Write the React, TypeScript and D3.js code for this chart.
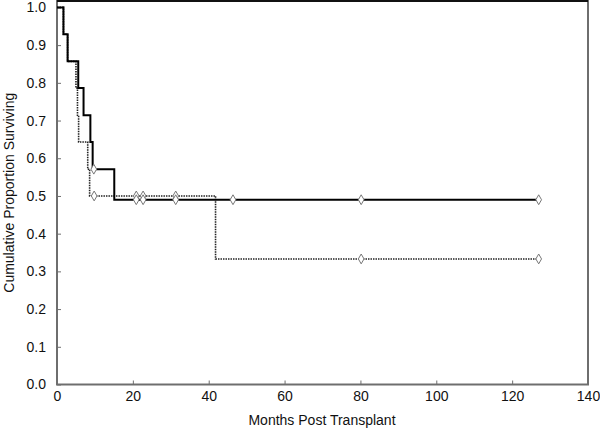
import React, { useRef, useEffect } from "react";
import * as d3 from "d3";

// survival steps: [month, proportion]
const solidSteps: [number, number][] = [
  [0, 1.0], [1.7, 0.929], [2.8, 0.857], [5.6, 0.786], [7.0, 0.714],
  [8.8, 0.643], [9.4, 0.571], [15.1, 0.49], [127, 0.49],
];
const solidCensored: [number, number][] = [
  [9.7, 0.571], [20.9, 0.49], [22.7, 0.49], [31.3, 0.49], [46.4, 0.49], [80.2, 0.49], [127, 0.49],
];

const dottedSteps: [number, number][] = [
  [0, 1.0], [1.7, 0.929], [2.8, 0.857], [5.0, 0.786], [5.4, 0.714], [5.7, 0.643],
  [8.1, 0.571], [8.6, 0.5], [41.8, 0.333], [127, 0.333],
];
const dottedCensored: [number, number][] = [
  [9.8, 0.5], [20.9, 0.5], [22.7, 0.5], [31.3, 0.5], [80.2, 0.333], [127, 0.333],
];

const xTicks = [0, 20, 40, 60, 80, 100, 120, 140];
const yTicks = [0, 0.1, 0.2, 0.3, 0.4, 0.5, 0.6, 0.7, 0.8, 0.9, 1.0];

const W = 600, H = 428;
const left = 57, right = 588, top = 1, bottom = 384.5;

export default function App() {
  const svgRef = useRef<SVGSVGElement>(null);

  useEffect(() => {
    const svg = d3.select(svgRef.current);
    svg.selectAll("*").remove();

    const x = d3.scaleLinear().domain([0, 140]).range([left, right]);
    const y = d3.scaleLinear().domain([0, 1.017]).range([bottom, top]);

    // frame
    svg.append("rect")
      .attr("x", left).attr("y", top)
      .attr("width", right - left).attr("height", bottom - top)
      .attr("fill", "none").attr("stroke", "#6e6e6e").attr("stroke-width", 2);
    svg.append("line")
      .attr("x1", left).attr("x2", right).attr("y1", top).attr("y2", top)
      .attr("stroke", "#111").attr("stroke-width", 2);

    // axes
    const xAxis = d3.axisBottom(x).tickValues(xTicks).tickSize(-4).tickPadding(7).tickFormat(d3.format("d"));
    const gx = svg.append("g").attr("transform", `translate(0,${bottom})`).call(xAxis);
    const yAxis = d3.axisLeft(y).tickValues(yTicks).tickSize(-4).tickPadding(11).tickFormat(d3.format(".1f"));
    const gy = svg.append("g").attr("transform", `translate(${left},0)`).call(yAxis);
    [gx, gy].forEach((g) => {
      g.select(".domain").remove();
      g.selectAll(".tick line").attr("stroke", "#6e6e6e").attr("stroke-width", 1);
      g.selectAll(".tick text")
        .attr("fill", "#111")
        .style("font-family", "Liberation Sans, Arial, sans-serif")
        .style("font-size", "14px");
    });

    // step lines
    const stepLine = d3.line<[number, number]>()
      .x((d) => x(d[0]))
      .y((d) => y(d[1]))
      .curve(d3.curveStepAfter);

    svg.append("path")
      .datum(dottedSteps)
      .attr("d", stepLine)
      .attr("fill", "none")
      .attr("stroke", "#222")
      .attr("stroke-width", 1.6)
      .attr("stroke-dasharray", "1.5,1");

    svg.append("path")
      .datum(solidSteps)
      .attr("d", stepLine)
      .attr("fill", "none")
      .attr("stroke", "#000")
      .attr("stroke-width", 2);

    // censor marks
    const diamond = d3.symbol().type(d3.symbolDiamond).size(28);
    svg.selectAll(".cens")
      .data([...dottedCensored, ...solidCensored])
      .join("path")
      .attr("class", "cens")
      .attr("d", diamond)
      .attr("transform", (d) => `translate(${x(d[0])},${y(d[1])})`)
      .attr("fill", "#fff")
      .attr("stroke", "#777")
      .attr("stroke-width", 1);

    // titles
    svg.append("text")
      .attr("x", (left + right) / 2 - 0.5)
      .attr("y", 425)
      .attr("text-anchor", "middle")
      .style("font-family", "Liberation Sans, Arial, sans-serif")
      .style("font-size", "14px")
      .attr("fill", "#111")
      .text("Months Post Transplant");

    svg.append("text")
      .attr("transform", `translate(14,${(top + bottom) / 2}) rotate(-90)`)
      .attr("text-anchor", "middle")
      .style("font-family", "Liberation Sans, Arial, sans-serif")
      .style("font-size", "14px")
      .attr("fill", "#111")
      .text("Cumulative Proportion Surviving");
  }, []);

  return (
    <svg ref={svgRef} width={W} height={H}
      style={{ position: "absolute", left: 0, top: 0, background: "#fff" }} />
  );
}
